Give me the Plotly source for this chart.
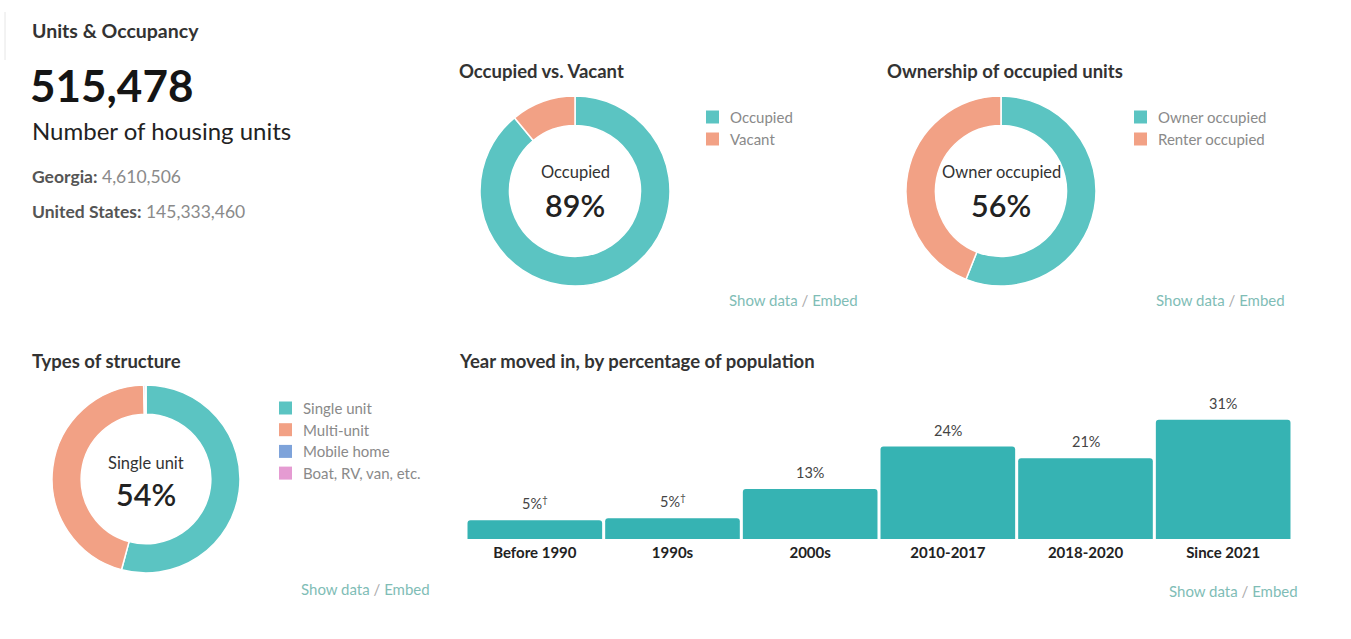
import plotly.graph_objects as go

# ---- data -------------------------------------------------------------
housing_units = "515,478"
georgia_units = "4,610,506"
us_units = "145,333,460"

occupancy_labels = ["Occupied", "Vacant"]
occupancy_values = [89, 11]

ownership_labels = ["Owner occupied", "Renter occupied"]
ownership_values = [56, 44]

structure_labels = ["Single unit", "Multi-unit", "Mobile home", "Boat, RV, van, etc."]
structure_values = [54.2, 45.4, 0.3, 0.1]

moved_in_periods = ["Before 1990", "1990s", "2000s", "2010-2017", "2018-2020", "Since 2021"]
moved_in_pct = [4.9, 5.4, 13, 24, 21, 31]
footnote_marks = ["†", "†", "", "", "", ""]

# ---- styling ----------------------------------------------------------
W, H = 1351, 639
FONT = "Lato"
TEAL = "#5BC4C2"
SALMON = "#F2A185"
BLUE = "#7EA3DA"
PINK = "#E59BD2"
BAR = "#36B3B3"
LINK = "#7FBDB6"


def px(x):
    return x / W


def py(y):
    return 1 - y / H


fig = go.Figure()

donut_common = dict(
    hole=0.69,
    sort=False,
    direction="clockwise",
    rotation=0,
    textinfo="none",
    hoverinfo="label+percent",
    showlegend=False,
    marker_line=dict(color="white", width=1.5),
)

fig.add_trace(go.Pie(
    labels=occupancy_labels, values=occupancy_values,
    marker_colors=[TEAL, SALMON],
    domain=dict(x=[px(480), px(670)], y=[py(286), py(96)]),
    **donut_common,
))
fig.add_trace(go.Pie(
    labels=ownership_labels, values=ownership_values,
    marker_colors=[TEAL, SALMON],
    domain=dict(x=[px(906), px(1096)], y=[py(286), py(96)]),
    **donut_common,
))
fig.add_trace(go.Pie(
    labels=structure_labels, values=structure_values,
    marker_colors=[TEAL, SALMON, BLUE, PINK],
    domain=dict(x=[px(51), px(241)], y=[py(573), py(385)]),
    **donut_common,
))

fig.add_trace(go.Bar(
    x=moved_in_periods, y=moved_in_pct,
    marker=dict(color=BAR, cornerradius=3, line=dict(width=0)),
    showlegend=False,
    xaxis="x", yaxis="y",
    hoverinfo="x+y",
))

annotations = []
shapes = []


def text(x, y, s, size, color="#333", anchor="left", weight="normal"):
    annotations.append(dict(
        x=px(x), y=py(y), xref="paper", yref="paper",
        xanchor=anchor, yanchor="middle", showarrow=False,
        text=s, font=dict(family=FONT, size=size, color=color, weight=weight),
    ))


def legend(x, y, labels, colors, step=22):
    # colour swatch plus label for each slice of a donut
    for i, (lab, col) in enumerate(zip(labels, colors)):
        yc = y + i * step
        shapes.append(dict(
            type="rect", xref="paper", yref="paper",
            x0=px(x), x1=px(x + 13), y0=py(yc + 6.5), y1=py(yc - 6.5),
            fillcolor=col, line=dict(width=0),
        ))
        text(x + 22, yc, lab, 15, "#8a8a8a")


# left summary block
text(30, 30, "<b>Units & Occupancy</b>", 19.5, "#333")
text(28, 85, f"<b>{housing_units}</b>", 44, "#151515")
text(30, 130, "Number of housing units", 24, "#222")
text(30, 176, f"<b>Georgia:</b> <span style='color:#8a8a8a'>{georgia_units}</span>", 17.5, "#555")
text(30, 211, f"<b>United States:</b> <span style='color:#8a8a8a'>{us_units}</span>", 17.5, "#555")

# panel titles
text(457, 71, "<b>Occupied vs. Vacant</b>", 18.5, "#333")
text(885, 71, "<b>Ownership of occupied units</b>", 18.5, "#333")
text(30, 361, "<b>Types of structure</b>", 18.5, "#333")
text(457, 361, "<b>Year moved in, by percentage of population</b>", 18.5, "#333")

# donut centre labels
text(575, 172, occupancy_labels[0], 16.5, "#333", "center")
text(575, 205, f"{occupancy_values[0]}%", 30.5, "#222", "center", 600)
text(1001, 172, ownership_labels[0], 16.5, "#333", "center")
text(1001, 205, f"{ownership_values[0]}%", 30.5, "#222", "center", 600)
text(146, 463, structure_labels[0], 16.5, "#333", "center")
text(146, 494, f"{round(structure_values[0])}%", 30.5, "#222", "center", 600)

# donut legends
legend(706, 117, occupancy_labels, [TEAL, SALMON])
legend(1134, 117, ownership_labels, [TEAL, SALMON])
legend(279, 408, structure_labels, [TEAL, SALMON, BLUE, PINK], step=21.7)

# value labels above the bars, positioned on the bar axes
for period, val, mark in zip(moved_in_periods, moved_in_pct, footnote_marks):
    label = f"{round(val)}%" + (f"<sup>{mark}</sup>" if mark else "")
    annotations.append(dict(
        x=period, y=val, xref="x", yref="y",
        xanchor="center", yanchor="bottom", yshift=6, showarrow=False,
        text=label, font=dict(family=FONT, size=14.5, color="#444"),
    ))

# link rows
link = f"<span style='color:{LINK}'>Show data</span> <span style='color:#aaa'>/</span> <span style='color:{LINK}'>Embed</span>"
text(860, 300, link, 15, LINK, "right")
text(1287, 300, link, 15, LINK, "right")
text(432, 589, link, 15, LINK, "right")
text(1300, 591, link, 15, LINK, "right")

shapes.append(dict(type="line", xref="paper", yref="paper",
                   x0=px(5), x1=px(5), y0=py(60), y1=py(12),
                   line=dict(color="#e6e6e6", width=1)))

fig.update_layout(
    width=W, height=H,
    margin=dict(l=0, r=0, t=0, b=0),
    paper_bgcolor="white", plot_bgcolor="white",
    font=dict(family=FONT),
    bargap=0.022,
    showlegend=False,
    xaxis=dict(
        domain=[px(466), px(1292)],
        anchor="y",
        showgrid=False, zeroline=False, showline=False, ticks="",
        tickfont=dict(family=FONT, size=15, color="#222"),
        tickprefix="<b>", ticksuffix="</b>",
        ticklabelstandoff=3,
        fixedrange=True,
    ),
    yaxis=dict(
        domain=[py(539), py(385)],
        range=[0, 40],
        visible=False, fixedrange=True,
    ),
    annotations=annotations,
    shapes=shapes,
)

fig.write_html("out.html")
